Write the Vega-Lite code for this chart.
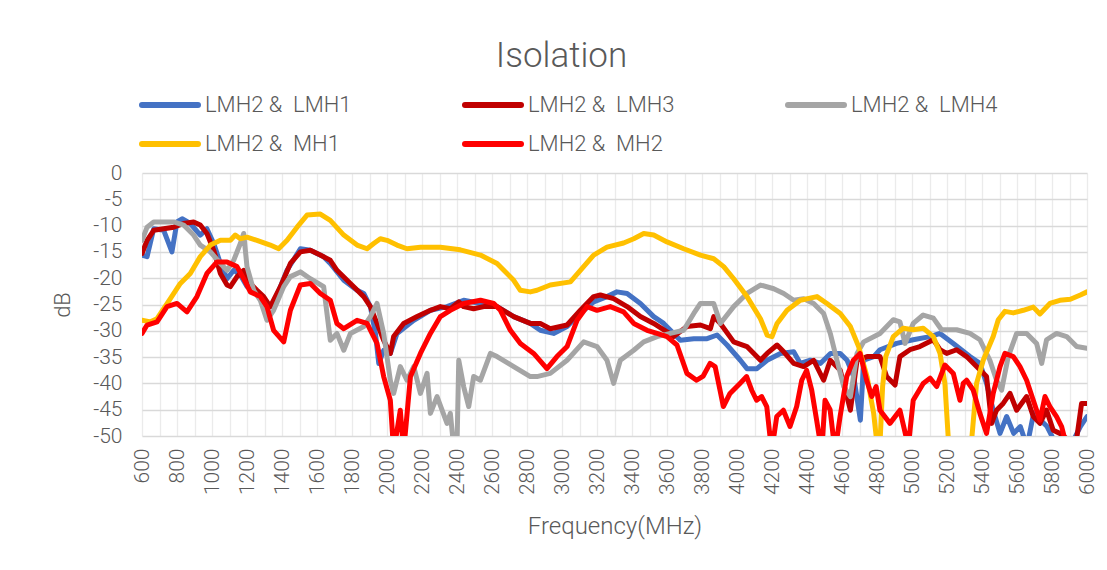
{
"$schema": "https://vega.github.io/schema/vega-lite/v6.json",
"width": 945, "height": 263,
"autosize": {"type": "none"},
"padding": {"left": 142, "top": 173, "right": 20, "bottom": 134},
"background": "white",
"title": {"text": "Isolation", "fontSize": 35, "font": "Roboto", "fontWeight": 300, "color": "#595959", "anchor": "middle", "dx": -53, "offset": -14, "baseline": "alphabetic"},
"config": {"view": {"stroke": null}, "font": "Roboto"},
"data": {"values": [
{"series":"LMH2 &\u00a0 LMH1","freq":600,"dB":-15.6},{"series":"LMH2 &\u00a0 LMH1","freq":629,"dB":-15.9},{"series":"LMH2 &\u00a0 LMH1","freq":667,"dB":-10.6},{"series":"LMH2 &\u00a0 LMH1","freq":724,"dB":-10.9},{"series":"LMH2 &\u00a0 LMH1","freq":771,"dB":-15.0},{"series":"LMH2 &\u00a0 LMH1","freq":800,"dB":-9.3},{"series":"LMH2 &\u00a0 LMH1","freq":829,"dB":-8.7},{"series":"LMH2 &\u00a0 LMH1","freq":876,"dB":-9.6},{"series":"LMH2 &\u00a0 LMH1","freq":933,"dB":-11.8},{"series":"LMH2 &\u00a0 LMH1","freq":971,"dB":-10.6},{"series":"LMH2 &\u00a0 LMH1","freq":1010,"dB":-13.4},{"series":"LMH2 &\u00a0 LMH1","freq":1048,"dB":-17.2},{"series":"LMH2 &\u00a0 LMH1","freq":1086,"dB":-20.1},{"series":"LMH2 &\u00a0 LMH1","freq":1124,"dB":-18.5},{"series":"LMH2 &\u00a0 LMH1","freq":1162,"dB":-19.4},{"series":"LMH2 &\u00a0 LMH1","freq":1200,"dB":-21.6},{"series":"LMH2 &\u00a0 LMH1","freq":1238,"dB":-22.3},{"series":"LMH2 &\u00a0 LMH1","freq":1295,"dB":-24.2},{"series":"LMH2 &\u00a0 LMH1","freq":1333,"dB":-25.4},{"series":"LMH2 &\u00a0 LMH1","freq":1352,"dB":-24.8},{"series":"LMH2 &\u00a0 LMH1","freq":1429,"dB":-18.5},{"series":"LMH2 &\u00a0 LMH1","freq":1505,"dB":-14.4},{"series":"LMH2 &\u00a0 LMH1","freq":1562,"dB":-14.7},{"series":"LMH2 &\u00a0 LMH1","freq":1638,"dB":-15.9},{"series":"LMH2 &\u00a0 LMH1","freq":1676,"dB":-17.2},{"series":"LMH2 &\u00a0 LMH1","freq":1753,"dB":-20.4},{"series":"LMH2 &\u00a0 LMH1","freq":1829,"dB":-22.3},{"series":"LMH2 &\u00a0 LMH1","freq":1867,"dB":-22.9},{"series":"LMH2 &\u00a0 LMH1","freq":1905,"dB":-25.4},{"series":"LMH2 &\u00a0 LMH1","freq":1934,"dB":-30.5},{"series":"LMH2 &\u00a0 LMH1","freq":1953,"dB":-36.2},{"series":"LMH2 &\u00a0 LMH1","freq":1981,"dB":-33.7},{"series":"LMH2 &\u00a0 LMH1","freq":2019,"dB":-34.3},{"series":"LMH2 &\u00a0 LMH1","freq":2057,"dB":-30.5},{"series":"LMH2 &\u00a0 LMH1","freq":2153,"dB":-28.0},{"series":"LMH2 &\u00a0 LMH1","freq":2248,"dB":-26.1},{"series":"LMH2 &\u00a0 LMH1","freq":2343,"dB":-25.4},{"series":"LMH2 &\u00a0 LMH1","freq":2438,"dB":-24.2},{"series":"LMH2 &\u00a0 LMH1","freq":2534,"dB":-24.8},{"series":"LMH2 &\u00a0 LMH1","freq":2629,"dB":-25.4},{"series":"LMH2 &\u00a0 LMH1","freq":2724,"dB":-27.3},{"series":"LMH2 &\u00a0 LMH1","freq":2819,"dB":-28.6},{"series":"LMH2 &\u00a0 LMH1","freq":2876,"dB":-29.9},{"series":"LMH2 &\u00a0 LMH1","freq":2952,"dB":-30.5},{"series":"LMH2 &\u00a0 LMH1","freq":3029,"dB":-29.2},{"series":"LMH2 &\u00a0 LMH1","freq":3105,"dB":-26.7},{"series":"LMH2 &\u00a0 LMH1","freq":3181,"dB":-24.5},{"series":"LMH2 &\u00a0 LMH1","freq":3257,"dB":-23.5},{"series":"LMH2 &\u00a0 LMH1","freq":3314,"dB":-22.6},{"series":"LMH2 &\u00a0 LMH1","freq":3372,"dB":-22.9},{"series":"LMH2 &\u00a0 LMH1","freq":3448,"dB":-24.8},{"series":"LMH2 &\u00a0 LMH1","freq":3524,"dB":-27.3},{"series":"LMH2 &\u00a0 LMH1","freq":3581,"dB":-28.6},{"series":"LMH2 &\u00a0 LMH1","freq":3638,"dB":-30.5},{"series":"LMH2 &\u00a0 LMH1","freq":3676,"dB":-31.8},{"series":"LMH2 &\u00a0 LMH1","freq":3753,"dB":-31.5},{"series":"LMH2 &\u00a0 LMH1","freq":3829,"dB":-31.5},{"series":"LMH2 &\u00a0 LMH1","freq":3886,"dB":-30.8},{"series":"LMH2 &\u00a0 LMH1","freq":3943,"dB":-32.7},{"series":"LMH2 &\u00a0 LMH1","freq":4019,"dB":-35.6},{"series":"LMH2 &\u00a0 LMH1","freq":4057,"dB":-37.2},{"series":"LMH2 &\u00a0 LMH1","freq":4114,"dB":-37.2},{"series":"LMH2 &\u00a0 LMH1","freq":4172,"dB":-35.6},{"series":"LMH2 &\u00a0 LMH1","freq":4248,"dB":-34.3},{"series":"LMH2 &\u00a0 LMH1","freq":4324,"dB":-34.0},{"series":"LMH2 &\u00a0 LMH1","freq":4362,"dB":-36.2},{"series":"LMH2 &\u00a0 LMH1","freq":4419,"dB":-35.6},{"series":"LMH2 &\u00a0 LMH1","freq":4476,"dB":-36.2},{"series":"LMH2 &\u00a0 LMH1","freq":4534,"dB":-34.3},{"series":"LMH2 &\u00a0 LMH1","freq":4590,"dB":-34.3},{"series":"LMH2 &\u00a0 LMH1","freq":4629,"dB":-35.6},{"series":"LMH2 &\u00a0 LMH1","freq":4667,"dB":-38.7},{"series":"LMH2 &\u00a0 LMH1","freq":4705,"dB":-47.0},{"series":"LMH2 &\u00a0 LMH1","freq":4724,"dB":-35.6},{"series":"LMH2 &\u00a0 LMH1","freq":4781,"dB":-34.9},{"series":"LMH2 &\u00a0 LMH1","freq":4817,"dB":-33.6},{"series":"LMH2 &\u00a0 LMH1","freq":4912,"dB":-32.4},{"series":"LMH2 &\u00a0 LMH1","freq":5007,"dB":-31.7},{"series":"LMH2 &\u00a0 LMH1","freq":5103,"dB":-31.1},{"series":"LMH2 &\u00a0 LMH1","freq":5160,"dB":-30.5},{"series":"LMH2 &\u00a0 LMH1","freq":5236,"dB":-32.4},{"series":"LMH2 &\u00a0 LMH1","freq":5331,"dB":-34.9},{"series":"LMH2 &\u00a0 LMH1","freq":5388,"dB":-36.2},{"series":"LMH2 &\u00a0 LMH1","freq":5426,"dB":-40.0},{"series":"LMH2 &\u00a0 LMH1","freq":5464,"dB":-45.1},{"series":"LMH2 &\u00a0 LMH1","freq":5503,"dB":-49.5},{"series":"LMH2 &\u00a0 LMH1","freq":5541,"dB":-46.3},{"series":"LMH2 &\u00a0 LMH1","freq":5581,"dB":-49.5},{"series":"LMH2 &\u00a0 LMH1","freq":5619,"dB":-48.2},{"series":"LMH2 &\u00a0 LMH1","freq":5657,"dB":-52},{"series":"LMH2 &\u00a0 LMH1","freq":5695,"dB":-45.7},{"series":"LMH2 &\u00a0 LMH1","freq":5772,"dB":-48.2},{"series":"LMH2 &\u00a0 LMH1","freq":5829,"dB":-52},{"series":"LMH2 &\u00a0 LMH1","freq":5905,"dB":-52},{"series":"LMH2 &\u00a0 LMH1","freq":5962,"dB":-48.2},{"series":"LMH2 &\u00a0 LMH1","freq":6000,"dB":-46.3},
{"series":"LMH2 &\u00a0 LMH3","freq":600,"dB":-15.3},{"series":"LMH2 &\u00a0 LMH3","freq":629,"dB":-12.8},{"series":"LMH2 &\u00a0 LMH3","freq":667,"dB":-10.9},{"series":"LMH2 &\u00a0 LMH3","freq":724,"dB":-10.6},{"series":"LMH2 &\u00a0 LMH3","freq":781,"dB":-10.3},{"series":"LMH2 &\u00a0 LMH3","freq":838,"dB":-9.6},{"series":"LMH2 &\u00a0 LMH3","freq":895,"dB":-9.3},{"series":"LMH2 &\u00a0 LMH3","freq":933,"dB":-9.9},{"series":"LMH2 &\u00a0 LMH3","freq":971,"dB":-11.5},{"series":"LMH2 &\u00a0 LMH3","freq":1010,"dB":-14.7},{"series":"LMH2 &\u00a0 LMH3","freq":1048,"dB":-19.1},{"series":"LMH2 &\u00a0 LMH3","freq":1086,"dB":-21.3},{"series":"LMH2 &\u00a0 LMH3","freq":1105,"dB":-21.6},{"series":"LMH2 &\u00a0 LMH3","freq":1143,"dB":-19.7},{"series":"LMH2 &\u00a0 LMH3","freq":1181,"dB":-18.5},{"series":"LMH2 &\u00a0 LMH3","freq":1219,"dB":-21.0},{"series":"LMH2 &\u00a0 LMH3","freq":1257,"dB":-22.3},{"series":"LMH2 &\u00a0 LMH3","freq":1295,"dB":-23.5},{"series":"LMH2 &\u00a0 LMH3","freq":1333,"dB":-25.4},{"series":"LMH2 &\u00a0 LMH3","freq":1391,"dB":-21.6},{"series":"LMH2 &\u00a0 LMH3","freq":1448,"dB":-17.2},{"series":"LMH2 &\u00a0 LMH3","freq":1505,"dB":-15.0},{"series":"LMH2 &\u00a0 LMH3","freq":1562,"dB":-14.7},{"series":"LMH2 &\u00a0 LMH3","freq":1619,"dB":-15.6},{"series":"LMH2 &\u00a0 LMH3","freq":1676,"dB":-16.6},{"series":"LMH2 &\u00a0 LMH3","freq":1714,"dB":-18.5},{"series":"LMH2 &\u00a0 LMH3","freq":1791,"dB":-21.0},{"series":"LMH2 &\u00a0 LMH3","freq":1867,"dB":-23.5},{"series":"LMH2 &\u00a0 LMH3","freq":1905,"dB":-25.4},{"series":"LMH2 &\u00a0 LMH3","freq":1943,"dB":-28.6},{"series":"LMH2 &\u00a0 LMH3","freq":1981,"dB":-31.8},{"series":"LMH2 &\u00a0 LMH3","freq":2019,"dB":-34.3},{"series":"LMH2 &\u00a0 LMH3","freq":2038,"dB":-31.1},{"series":"LMH2 &\u00a0 LMH3","freq":2095,"dB":-28.6},{"series":"LMH2 &\u00a0 LMH3","freq":2172,"dB":-27.3},{"series":"LMH2 &\u00a0 LMH3","freq":2248,"dB":-26.1},{"series":"LMH2 &\u00a0 LMH3","freq":2305,"dB":-25.4},{"series":"LMH2 &\u00a0 LMH3","freq":2362,"dB":-25.8},{"series":"LMH2 &\u00a0 LMH3","freq":2410,"dB":-24.5},{"series":"LMH2 &\u00a0 LMH3","freq":2438,"dB":-25.4},{"series":"LMH2 &\u00a0 LMH3","freq":2495,"dB":-25.8},{"series":"LMH2 &\u00a0 LMH3","freq":2553,"dB":-25.4},{"series":"LMH2 &\u00a0 LMH3","freq":2629,"dB":-25.4},{"series":"LMH2 &\u00a0 LMH3","freq":2724,"dB":-27.3},{"series":"LMH2 &\u00a0 LMH3","freq":2819,"dB":-28.6},{"series":"LMH2 &\u00a0 LMH3","freq":2876,"dB":-28.6},{"series":"LMH2 &\u00a0 LMH3","freq":2933,"dB":-29.6},{"series":"LMH2 &\u00a0 LMH3","freq":3029,"dB":-28.9},{"series":"LMH2 &\u00a0 LMH3","freq":3105,"dB":-26.1},{"series":"LMH2 &\u00a0 LMH3","freq":3181,"dB":-23.5},{"series":"LMH2 &\u00a0 LMH3","freq":3219,"dB":-23.2},{"series":"LMH2 &\u00a0 LMH3","freq":3295,"dB":-23.9},{"series":"LMH2 &\u00a0 LMH3","freq":3372,"dB":-25.4},{"series":"LMH2 &\u00a0 LMH3","freq":3448,"dB":-27.3},{"series":"LMH2 &\u00a0 LMH3","freq":3524,"dB":-28.6},{"series":"LMH2 &\u00a0 LMH3","freq":3600,"dB":-30.2},{"series":"LMH2 &\u00a0 LMH3","freq":3638,"dB":-31.1},{"series":"LMH2 &\u00a0 LMH3","freq":3714,"dB":-29.2},{"series":"LMH2 &\u00a0 LMH3","freq":3791,"dB":-28.9},{"series":"LMH2 &\u00a0 LMH3","freq":3848,"dB":-29.6},{"series":"LMH2 &\u00a0 LMH3","freq":3867,"dB":-27.3},{"series":"LMH2 &\u00a0 LMH3","freq":3905,"dB":-28.6},{"series":"LMH2 &\u00a0 LMH3","freq":3981,"dB":-32.1},{"series":"LMH2 &\u00a0 LMH3","freq":4057,"dB":-33.0},{"series":"LMH2 &\u00a0 LMH3","freq":4134,"dB":-35.6},{"series":"LMH2 &\u00a0 LMH3","freq":4172,"dB":-34.3},{"series":"LMH2 &\u00a0 LMH3","freq":4229,"dB":-32.7},{"series":"LMH2 &\u00a0 LMH3","freq":4267,"dB":-34.0},{"series":"LMH2 &\u00a0 LMH3","freq":4324,"dB":-36.2},{"series":"LMH2 &\u00a0 LMH3","freq":4381,"dB":-36.8},{"series":"LMH2 &\u00a0 LMH3","freq":4438,"dB":-35.6},{"series":"LMH2 &\u00a0 LMH3","freq":4495,"dB":-39.4},{"series":"LMH2 &\u00a0 LMH3","freq":4533,"dB":-35.6},{"series":"LMH2 &\u00a0 LMH3","freq":4590,"dB":-37.5},{"series":"LMH2 &\u00a0 LMH3","freq":4648,"dB":-45.1},{"series":"LMH2 &\u00a0 LMH3","freq":4686,"dB":-35.6},{"series":"LMH2 &\u00a0 LMH3","freq":4743,"dB":-34.9},{"series":"LMH2 &\u00a0 LMH3","freq":4817,"dB":-34.9},{"series":"LMH2 &\u00a0 LMH3","freq":4855,"dB":-38.7},{"series":"LMH2 &\u00a0 LMH3","freq":4903,"dB":-40.3},{"series":"LMH2 &\u00a0 LMH3","freq":4931,"dB":-34.9},{"series":"LMH2 &\u00a0 LMH3","freq":4988,"dB":-33.6},{"series":"LMH2 &\u00a0 LMH3","freq":5045,"dB":-33.0},{"series":"LMH2 &\u00a0 LMH3","freq":5122,"dB":-31.7},{"series":"LMH2 &\u00a0 LMH3","freq":5160,"dB":-33.6},{"series":"LMH2 &\u00a0 LMH3","freq":5198,"dB":-34.3},{"series":"LMH2 &\u00a0 LMH3","freq":5255,"dB":-33.6},{"series":"LMH2 &\u00a0 LMH3","freq":5312,"dB":-34.9},{"series":"LMH2 &\u00a0 LMH3","freq":5369,"dB":-36.8},{"series":"LMH2 &\u00a0 LMH3","freq":5426,"dB":-38.7},{"series":"LMH2 &\u00a0 LMH3","freq":5455,"dB":-47.6},{"series":"LMH2 &\u00a0 LMH3","freq":5483,"dB":-45.1},{"series":"LMH2 &\u00a0 LMH3","freq":5521,"dB":-43.8},{"series":"LMH2 &\u00a0 LMH3","freq":5560,"dB":-41.9},{"series":"LMH2 &\u00a0 LMH3","freq":5598,"dB":-45.1},{"series":"LMH2 &\u00a0 LMH3","freq":5655,"dB":-42.5},{"series":"LMH2 &\u00a0 LMH3","freq":5693,"dB":-46.3},{"series":"LMH2 &\u00a0 LMH3","freq":5731,"dB":-47.6},{"series":"LMH2 &\u00a0 LMH3","freq":5769,"dB":-45.1},{"series":"LMH2 &\u00a0 LMH3","freq":5807,"dB":-48.9},{"series":"LMH2 &\u00a0 LMH3","freq":5845,"dB":-49.5},{"series":"LMH2 &\u00a0 LMH3","freq":5884,"dB":-50.5},{"series":"LMH2 &\u00a0 LMH3","freq":5941,"dB":-50.5},{"series":"LMH2 &\u00a0 LMH3","freq":5969,"dB":-43.8},{"series":"LMH2 &\u00a0 LMH3","freq":6000,"dB":-43.8},
{"series":"LMH2 &\u00a0 LMH4","freq":600,"dB":-12.8},{"series":"LMH2 &\u00a0 LMH4","freq":629,"dB":-10.3},{"series":"LMH2 &\u00a0 LMH4","freq":667,"dB":-9.3},{"series":"LMH2 &\u00a0 LMH4","freq":724,"dB":-9.3},{"series":"LMH2 &\u00a0 LMH4","freq":781,"dB":-9.3},{"series":"LMH2 &\u00a0 LMH4","freq":838,"dB":-9.9},{"series":"LMH2 &\u00a0 LMH4","freq":895,"dB":-11.8},{"series":"LMH2 &\u00a0 LMH4","freq":933,"dB":-13.7},{"series":"LMH2 &\u00a0 LMH4","freq":991,"dB":-15.0},{"series":"LMH2 &\u00a0 LMH4","freq":1048,"dB":-17.2},{"series":"LMH2 &\u00a0 LMH4","freq":1086,"dB":-18.5},{"series":"LMH2 &\u00a0 LMH4","freq":1124,"dB":-16.6},{"series":"LMH2 &\u00a0 LMH4","freq":1162,"dB":-13.4},{"series":"LMH2 &\u00a0 LMH4","freq":1181,"dB":-11.5},{"series":"LMH2 &\u00a0 LMH4","freq":1200,"dB":-17.8},{"series":"LMH2 &\u00a0 LMH4","freq":1238,"dB":-22.3},{"series":"LMH2 &\u00a0 LMH4","freq":1276,"dB":-24.2},{"series":"LMH2 &\u00a0 LMH4","freq":1314,"dB":-28.0},{"series":"LMH2 &\u00a0 LMH4","freq":1352,"dB":-26.1},{"series":"LMH2 &\u00a0 LMH4","freq":1410,"dB":-21.6},{"series":"LMH2 &\u00a0 LMH4","freq":1448,"dB":-19.7},{"series":"LMH2 &\u00a0 LMH4","freq":1505,"dB":-18.8},{"series":"LMH2 &\u00a0 LMH4","freq":1562,"dB":-20.1},{"series":"LMH2 &\u00a0 LMH4","freq":1638,"dB":-21.6},{"series":"LMH2 &\u00a0 LMH4","freq":1676,"dB":-31.8},{"series":"LMH2 &\u00a0 LMH4","freq":1714,"dB":-30.5},{"series":"LMH2 &\u00a0 LMH4","freq":1753,"dB":-33.7},{"series":"LMH2 &\u00a0 LMH4","freq":1791,"dB":-30.5},{"series":"LMH2 &\u00a0 LMH4","freq":1867,"dB":-29.2},{"series":"LMH2 &\u00a0 LMH4","freq":1905,"dB":-27.3},{"series":"LMH2 &\u00a0 LMH4","freq":1943,"dB":-24.8},{"series":"LMH2 &\u00a0 LMH4","freq":1981,"dB":-30.5},{"series":"LMH2 &\u00a0 LMH4","freq":2019,"dB":-39.4},{"series":"LMH2 &\u00a0 LMH4","freq":2038,"dB":-41.9},{"series":"LMH2 &\u00a0 LMH4","freq":2076,"dB":-36.8},{"series":"LMH2 &\u00a0 LMH4","freq":2114,"dB":-39.4},{"series":"LMH2 &\u00a0 LMH4","freq":2153,"dB":-36.8},{"series":"LMH2 &\u00a0 LMH4","freq":2191,"dB":-41.9},{"series":"LMH2 &\u00a0 LMH4","freq":2229,"dB":-38.1},{"series":"LMH2 &\u00a0 LMH4","freq":2248,"dB":-45.7},{"series":"LMH2 &\u00a0 LMH4","freq":2286,"dB":-42.5},{"series":"LMH2 &\u00a0 LMH4","freq":2343,"dB":-47.6},{"series":"LMH2 &\u00a0 LMH4","freq":2362,"dB":-45.7},{"series":"LMH2 &\u00a0 LMH4","freq":2381,"dB":-52},{"series":"LMH2 &\u00a0 LMH4","freq":2400,"dB":-52},{"series":"LMH2 &\u00a0 LMH4","freq":2410,"dB":-35.6},{"series":"LMH2 &\u00a0 LMH4","freq":2438,"dB":-40.6},{"series":"LMH2 &\u00a0 LMH4","freq":2467,"dB":-44.4},{"series":"LMH2 &\u00a0 LMH4","freq":2495,"dB":-38.7},{"series":"LMH2 &\u00a0 LMH4","freq":2534,"dB":-39.4},{"series":"LMH2 &\u00a0 LMH4","freq":2591,"dB":-34.3},{"series":"LMH2 &\u00a0 LMH4","freq":2629,"dB":-34.9},{"series":"LMH2 &\u00a0 LMH4","freq":2724,"dB":-36.8},{"series":"LMH2 &\u00a0 LMH4","freq":2819,"dB":-38.7},{"series":"LMH2 &\u00a0 LMH4","freq":2857,"dB":-38.7},{"series":"LMH2 &\u00a0 LMH4","freq":2933,"dB":-38.1},{"series":"LMH2 &\u00a0 LMH4","freq":3029,"dB":-35.6},{"series":"LMH2 &\u00a0 LMH4","freq":3124,"dB":-32.1},{"series":"LMH2 &\u00a0 LMH4","freq":3200,"dB":-33.0},{"series":"LMH2 &\u00a0 LMH4","freq":3257,"dB":-35.6},{"series":"LMH2 &\u00a0 LMH4","freq":3295,"dB":-40.0},{"series":"LMH2 &\u00a0 LMH4","freq":3333,"dB":-35.6},{"series":"LMH2 &\u00a0 LMH4","freq":3410,"dB":-33.7},{"series":"LMH2 &\u00a0 LMH4","freq":3467,"dB":-32.1},{"series":"LMH2 &\u00a0 LMH4","freq":3543,"dB":-31.1},{"series":"LMH2 &\u00a0 LMH4","freq":3619,"dB":-30.5},{"series":"LMH2 &\u00a0 LMH4","freq":3695,"dB":-29.9},{"series":"LMH2 &\u00a0 LMH4","freq":3753,"dB":-26.7},{"series":"LMH2 &\u00a0 LMH4","freq":3791,"dB":-24.8},{"series":"LMH2 &\u00a0 LMH4","freq":3867,"dB":-24.8},{"series":"LMH2 &\u00a0 LMH4","freq":3905,"dB":-28.6},{"series":"LMH2 &\u00a0 LMH4","freq":3981,"dB":-25.4},{"series":"LMH2 &\u00a0 LMH4","freq":4057,"dB":-22.9},{"series":"LMH2 &\u00a0 LMH4","freq":4134,"dB":-21.3},{"series":"LMH2 &\u00a0 LMH4","freq":4210,"dB":-22.0},{"series":"LMH2 &\u00a0 LMH4","freq":4267,"dB":-22.9},{"series":"LMH2 &\u00a0 LMH4","freq":4324,"dB":-24.2},{"series":"LMH2 &\u00a0 LMH4","freq":4381,"dB":-23.9},{"series":"LMH2 &\u00a0 LMH4","freq":4438,"dB":-24.8},{"series":"LMH2 &\u00a0 LMH4","freq":4495,"dB":-26.7},{"series":"LMH2 &\u00a0 LMH4","freq":4533,"dB":-30.5},{"series":"LMH2 &\u00a0 LMH4","freq":4571,"dB":-35.6},{"series":"LMH2 &\u00a0 LMH4","freq":4610,"dB":-40.6},{"series":"LMH2 &\u00a0 LMH4","freq":4648,"dB":-42.5},{"series":"LMH2 &\u00a0 LMH4","freq":4686,"dB":-34.3},{"series":"LMH2 &\u00a0 LMH4","freq":4724,"dB":-32.1},{"series":"LMH2 &\u00a0 LMH4","freq":4817,"dB":-30.5},{"series":"LMH2 &\u00a0 LMH4","freq":4893,"dB":-27.9},{"series":"LMH2 &\u00a0 LMH4","freq":4931,"dB":-28.3},{"series":"LMH2 &\u00a0 LMH4","freq":4960,"dB":-32.4},{"series":"LMH2 &\u00a0 LMH4","freq":5007,"dB":-28.6},{"series":"LMH2 &\u00a0 LMH4","freq":5064,"dB":-27.0},{"series":"LMH2 &\u00a0 LMH4","freq":5122,"dB":-27.6},{"series":"LMH2 &\u00a0 LMH4","freq":5169,"dB":-29.8},{"series":"LMH2 &\u00a0 LMH4","freq":5255,"dB":-29.8},{"series":"LMH2 &\u00a0 LMH4","freq":5331,"dB":-30.5},{"series":"LMH2 &\u00a0 LMH4","freq":5388,"dB":-31.7},{"series":"LMH2 &\u00a0 LMH4","freq":5445,"dB":-35.6},{"series":"LMH2 &\u00a0 LMH4","freq":5483,"dB":-39.4},{"series":"LMH2 &\u00a0 LMH4","freq":5512,"dB":-41.3},{"series":"LMH2 &\u00a0 LMH4","freq":5550,"dB":-34.9},{"series":"LMH2 &\u00a0 LMH4","freq":5598,"dB":-30.5},{"series":"LMH2 &\u00a0 LMH4","freq":5655,"dB":-30.5},{"series":"LMH2 &\u00a0 LMH4","freq":5712,"dB":-32.4},{"series":"LMH2 &\u00a0 LMH4","freq":5741,"dB":-36.2},{"series":"LMH2 &\u00a0 LMH4","freq":5769,"dB":-31.7},{"series":"LMH2 &\u00a0 LMH4","freq":5826,"dB":-30.5},{"series":"LMH2 &\u00a0 LMH4","freq":5884,"dB":-31.1},{"series":"LMH2 &\u00a0 LMH4","freq":5941,"dB":-33.0},{"series":"LMH2 &\u00a0 LMH4","freq":6000,"dB":-33.3},
{"series":"LMH2 &\u00a0 MH1","freq":600,"dB":-28.0},{"series":"LMH2 &\u00a0 MH1","freq":648,"dB":-28.3},{"series":"LMH2 &\u00a0 MH1","freq":686,"dB":-27.7},{"series":"LMH2 &\u00a0 MH1","freq":762,"dB":-23.9},{"series":"LMH2 &\u00a0 MH1","freq":819,"dB":-21.0},{"series":"LMH2 &\u00a0 MH1","freq":876,"dB":-19.1},{"series":"LMH2 &\u00a0 MH1","freq":933,"dB":-15.9},{"series":"LMH2 &\u00a0 MH1","freq":991,"dB":-13.7},{"series":"LMH2 &\u00a0 MH1","freq":1048,"dB":-12.8},{"series":"LMH2 &\u00a0 MH1","freq":1105,"dB":-12.8},{"series":"LMH2 &\u00a0 MH1","freq":1133,"dB":-11.8},{"series":"LMH2 &\u00a0 MH1","freq":1162,"dB":-12.5},{"series":"LMH2 &\u00a0 MH1","freq":1200,"dB":-12.2},{"series":"LMH2 &\u00a0 MH1","freq":1257,"dB":-12.8},{"series":"LMH2 &\u00a0 MH1","freq":1333,"dB":-13.7},{"series":"LMH2 &\u00a0 MH1","freq":1381,"dB":-14.4},{"series":"LMH2 &\u00a0 MH1","freq":1429,"dB":-12.8},{"series":"LMH2 &\u00a0 MH1","freq":1486,"dB":-10.3},{"series":"LMH2 &\u00a0 MH1","freq":1543,"dB":-8.0},{"series":"LMH2 &\u00a0 MH1","freq":1619,"dB":-7.8},{"series":"LMH2 &\u00a0 MH1","freq":1676,"dB":-9.0},{"series":"LMH2 &\u00a0 MH1","freq":1753,"dB":-11.8},{"series":"LMH2 &\u00a0 MH1","freq":1829,"dB":-13.7},{"series":"LMH2 &\u00a0 MH1","freq":1886,"dB":-14.4},{"series":"LMH2 &\u00a0 MH1","freq":1924,"dB":-13.4},{"series":"LMH2 &\u00a0 MH1","freq":1962,"dB":-12.5},{"series":"LMH2 &\u00a0 MH1","freq":2000,"dB":-12.8},{"series":"LMH2 &\u00a0 MH1","freq":2057,"dB":-13.7},{"series":"LMH2 &\u00a0 MH1","freq":2114,"dB":-14.4},{"series":"LMH2 &\u00a0 MH1","freq":2191,"dB":-14.1},{"series":"LMH2 &\u00a0 MH1","freq":2305,"dB":-14.1},{"series":"LMH2 &\u00a0 MH1","freq":2419,"dB":-14.6},{"series":"LMH2 &\u00a0 MH1","freq":2534,"dB":-15.6},{"series":"LMH2 &\u00a0 MH1","freq":2629,"dB":-17.2},{"series":"LMH2 &\u00a0 MH1","freq":2724,"dB":-20.4},{"series":"LMH2 &\u00a0 MH1","freq":2762,"dB":-22.3},{"series":"LMH2 &\u00a0 MH1","freq":2819,"dB":-22.6},{"series":"LMH2 &\u00a0 MH1","freq":2857,"dB":-22.3},{"series":"LMH2 &\u00a0 MH1","freq":2933,"dB":-21.3},{"series":"LMH2 &\u00a0 MH1","freq":3048,"dB":-20.7},{"series":"LMH2 &\u00a0 MH1","freq":3105,"dB":-18.5},{"series":"LMH2 &\u00a0 MH1","freq":3181,"dB":-15.6},{"series":"LMH2 &\u00a0 MH1","freq":3257,"dB":-14.1},{"series":"LMH2 &\u00a0 MH1","freq":3352,"dB":-13.3},{"series":"LMH2 &\u00a0 MH1","freq":3410,"dB":-12.5},{"series":"LMH2 &\u00a0 MH1","freq":3467,"dB":-11.5},{"series":"LMH2 &\u00a0 MH1","freq":3524,"dB":-11.8},{"series":"LMH2 &\u00a0 MH1","freq":3600,"dB":-13.1},{"series":"LMH2 &\u00a0 MH1","freq":3695,"dB":-14.4},{"series":"LMH2 &\u00a0 MH1","freq":3791,"dB":-15.6},{"series":"LMH2 &\u00a0 MH1","freq":3867,"dB":-16.3},{"series":"LMH2 &\u00a0 MH1","freq":3924,"dB":-17.8},{"series":"LMH2 &\u00a0 MH1","freq":3981,"dB":-20.1},{"series":"LMH2 &\u00a0 MH1","freq":4057,"dB":-23.5},{"series":"LMH2 &\u00a0 MH1","freq":4134,"dB":-27.7},{"series":"LMH2 &\u00a0 MH1","freq":4172,"dB":-30.8},{"series":"LMH2 &\u00a0 MH1","freq":4200,"dB":-31.1},{"series":"LMH2 &\u00a0 MH1","freq":4229,"dB":-28.6},{"series":"LMH2 &\u00a0 MH1","freq":4286,"dB":-26.1},{"series":"LMH2 &\u00a0 MH1","freq":4362,"dB":-24.2},{"series":"LMH2 &\u00a0 MH1","freq":4457,"dB":-23.5},{"series":"LMH2 &\u00a0 MH1","freq":4514,"dB":-24.8},{"series":"LMH2 &\u00a0 MH1","freq":4590,"dB":-26.7},{"series":"LMH2 &\u00a0 MH1","freq":4648,"dB":-29.2},{"series":"LMH2 &\u00a0 MH1","freq":4695,"dB":-33.0},{"series":"LMH2 &\u00a0 MH1","freq":4743,"dB":-38.7},{"series":"LMH2 &\u00a0 MH1","freq":4781,"dB":-45.7},{"series":"LMH2 &\u00a0 MH1","freq":4805,"dB":-53},{"series":"LMH2 &\u00a0 MH1","freq":4815,"dB":-53},{"series":"LMH2 &\u00a0 MH1","freq":4832,"dB":-40.6},{"series":"LMH2 &\u00a0 MH1","freq":4850,"dB":-34.9},{"series":"LMH2 &\u00a0 MH1","freq":4893,"dB":-31.1},{"series":"LMH2 &\u00a0 MH1","freq":4950,"dB":-29.5},{"series":"LMH2 &\u00a0 MH1","freq":5007,"dB":-29.8},{"series":"LMH2 &\u00a0 MH1","freq":5064,"dB":-29.5},{"series":"LMH2 &\u00a0 MH1","freq":5122,"dB":-31.1},{"series":"LMH2 &\u00a0 MH1","freq":5160,"dB":-34.3},{"series":"LMH2 &\u00a0 MH1","freq":5188,"dB":-40.0},{"series":"LMH2 &\u00a0 MH1","freq":5212,"dB":-53},{"series":"LMH2 &\u00a0 MH1","freq":5335,"dB":-53},{"series":"LMH2 &\u00a0 MH1","freq":5369,"dB":-40.0},{"series":"LMH2 &\u00a0 MH1","freq":5407,"dB":-35.6},{"series":"LMH2 &\u00a0 MH1","freq":5464,"dB":-31.1},{"series":"LMH2 &\u00a0 MH1","freq":5493,"dB":-27.9},{"series":"LMH2 &\u00a0 MH1","freq":5531,"dB":-26.3},{"series":"LMH2 &\u00a0 MH1","freq":5579,"dB":-26.6},{"series":"LMH2 &\u00a0 MH1","freq":5636,"dB":-26.1},{"series":"LMH2 &\u00a0 MH1","freq":5693,"dB":-25.5},{"series":"LMH2 &\u00a0 MH1","freq":5731,"dB":-26.8},{"series":"LMH2 &\u00a0 MH1","freq":5788,"dB":-24.8},{"series":"LMH2 &\u00a0 MH1","freq":5845,"dB":-24.2},{"series":"LMH2 &\u00a0 MH1","freq":5905,"dB":-24.0},{"series":"LMH2 &\u00a0 MH1","freq":5962,"dB":-23.2},{"series":"LMH2 &\u00a0 MH1","freq":6000,"dB":-22.6},
{"series":"LMH2 &\u00a0 MH2","freq":600,"dB":-30.5},{"series":"LMH2 &\u00a0 MH2","freq":629,"dB":-28.9},{"series":"LMH2 &\u00a0 MH2","freq":686,"dB":-28.3},{"series":"LMH2 &\u00a0 MH2","freq":743,"dB":-25.4},{"series":"LMH2 &\u00a0 MH2","freq":800,"dB":-24.8},{"series":"LMH2 &\u00a0 MH2","freq":857,"dB":-26.4},{"series":"LMH2 &\u00a0 MH2","freq":914,"dB":-23.5},{"series":"LMH2 &\u00a0 MH2","freq":971,"dB":-19.1},{"series":"LMH2 &\u00a0 MH2","freq":1029,"dB":-16.9},{"series":"LMH2 &\u00a0 MH2","freq":1086,"dB":-16.9},{"series":"LMH2 &\u00a0 MH2","freq":1143,"dB":-17.8},{"series":"LMH2 &\u00a0 MH2","freq":1181,"dB":-20.1},{"series":"LMH2 &\u00a0 MH2","freq":1219,"dB":-22.6},{"series":"LMH2 &\u00a0 MH2","freq":1276,"dB":-23.5},{"series":"LMH2 &\u00a0 MH2","freq":1314,"dB":-25.4},{"series":"LMH2 &\u00a0 MH2","freq":1352,"dB":-29.9},{"series":"LMH2 &\u00a0 MH2","freq":1410,"dB":-32.1},{"series":"LMH2 &\u00a0 MH2","freq":1448,"dB":-26.1},{"series":"LMH2 &\u00a0 MH2","freq":1505,"dB":-21.3},{"series":"LMH2 &\u00a0 MH2","freq":1562,"dB":-21.0},{"series":"LMH2 &\u00a0 MH2","freq":1619,"dB":-22.9},{"series":"LMH2 &\u00a0 MH2","freq":1676,"dB":-24.2},{"series":"LMH2 &\u00a0 MH2","freq":1714,"dB":-28.6},{"series":"LMH2 &\u00a0 MH2","freq":1753,"dB":-29.6},{"series":"LMH2 &\u00a0 MH2","freq":1829,"dB":-28.0},{"series":"LMH2 &\u00a0 MH2","freq":1886,"dB":-28.6},{"series":"LMH2 &\u00a0 MH2","freq":1943,"dB":-32.4},{"series":"LMH2 &\u00a0 MH2","freq":1981,"dB":-38.7},{"series":"LMH2 &\u00a0 MH2","freq":2019,"dB":-43.2},{"series":"LMH2 &\u00a0 MH2","freq":2038,"dB":-53},{"series":"LMH2 &\u00a0 MH2","freq":2076,"dB":-45.1},{"series":"LMH2 &\u00a0 MH2","freq":2095,"dB":-53},{"series":"LMH2 &\u00a0 MH2","freq":2134,"dB":-38.7},{"series":"LMH2 &\u00a0 MH2","freq":2191,"dB":-34.3},{"series":"LMH2 &\u00a0 MH2","freq":2248,"dB":-30.5},{"series":"LMH2 &\u00a0 MH2","freq":2305,"dB":-27.3},{"series":"LMH2 &\u00a0 MH2","freq":2362,"dB":-26.1},{"series":"LMH2 &\u00a0 MH2","freq":2438,"dB":-24.8},{"series":"LMH2 &\u00a0 MH2","freq":2534,"dB":-24.2},{"series":"LMH2 &\u00a0 MH2","freq":2610,"dB":-24.8},{"series":"LMH2 &\u00a0 MH2","freq":2648,"dB":-26.1},{"series":"LMH2 &\u00a0 MH2","freq":2705,"dB":-29.9},{"series":"LMH2 &\u00a0 MH2","freq":2762,"dB":-32.4},{"series":"LMH2 &\u00a0 MH2","freq":2838,"dB":-34.3},{"series":"LMH2 &\u00a0 MH2","freq":2914,"dB":-37.2},{"series":"LMH2 &\u00a0 MH2","freq":2971,"dB":-34.9},{"series":"LMH2 &\u00a0 MH2","freq":3029,"dB":-33.0},{"series":"LMH2 &\u00a0 MH2","freq":3086,"dB":-28.0},{"series":"LMH2 &\u00a0 MH2","freq":3143,"dB":-25.4},{"series":"LMH2 &\u00a0 MH2","freq":3200,"dB":-26.1},{"series":"LMH2 &\u00a0 MH2","freq":3276,"dB":-25.4},{"series":"LMH2 &\u00a0 MH2","freq":3352,"dB":-26.4},{"series":"LMH2 &\u00a0 MH2","freq":3410,"dB":-28.6},{"series":"LMH2 &\u00a0 MH2","freq":3486,"dB":-29.9},{"series":"LMH2 &\u00a0 MH2","freq":3543,"dB":-30.5},{"series":"LMH2 &\u00a0 MH2","freq":3600,"dB":-31.1},{"series":"LMH2 &\u00a0 MH2","freq":3657,"dB":-32.7},{"series":"LMH2 &\u00a0 MH2","freq":3714,"dB":-38.1},{"series":"LMH2 &\u00a0 MH2","freq":3769,"dB":-39.4},{"series":"LMH2 &\u00a0 MH2","freq":3807,"dB":-38.6},{"series":"LMH2 &\u00a0 MH2","freq":3846,"dB":-36.2},{"series":"LMH2 &\u00a0 MH2","freq":3875,"dB":-36.8},{"series":"LMH2 &\u00a0 MH2","freq":3903,"dB":-41.3},{"series":"LMH2 &\u00a0 MH2","freq":3922,"dB":-44.4},{"series":"LMH2 &\u00a0 MH2","freq":3960,"dB":-41.9},{"series":"LMH2 &\u00a0 MH2","freq":4017,"dB":-40.0},{"series":"LMH2 &\u00a0 MH2","freq":4055,"dB":-38.7},{"series":"LMH2 &\u00a0 MH2","freq":4084,"dB":-41.3},{"series":"LMH2 &\u00a0 MH2","freq":4112,"dB":-43.2},{"series":"LMH2 &\u00a0 MH2","freq":4141,"dB":-42.5},{"series":"LMH2 &\u00a0 MH2","freq":4170,"dB":-44.4},{"series":"LMH2 &\u00a0 MH2","freq":4198,"dB":-53},{"series":"LMH2 &\u00a0 MH2","freq":4227,"dB":-46.3},{"series":"LMH2 &\u00a0 MH2","freq":4265,"dB":-45.1},{"series":"LMH2 &\u00a0 MH2","freq":4303,"dB":-48.2},{"series":"LMH2 &\u00a0 MH2","freq":4341,"dB":-44.4},{"series":"LMH2 &\u00a0 MH2","freq":4370,"dB":-39.4},{"series":"LMH2 &\u00a0 MH2","freq":4398,"dB":-37.5},{"series":"LMH2 &\u00a0 MH2","freq":4427,"dB":-41.3},{"series":"LMH2 &\u00a0 MH2","freq":4455,"dB":-47.0},{"series":"LMH2 &\u00a0 MH2","freq":4484,"dB":-53},{"series":"LMH2 &\u00a0 MH2","freq":4503,"dB":-43.2},{"series":"LMH2 &\u00a0 MH2","freq":4532,"dB":-45.0},{"series":"LMH2 &\u00a0 MH2","freq":4560,"dB":-53},{"series":"LMH2 &\u00a0 MH2","freq":4589,"dB":-46.3},{"series":"LMH2 &\u00a0 MH2","freq":4627,"dB":-38.7},{"series":"LMH2 &\u00a0 MH2","freq":4665,"dB":-35.6},{"series":"LMH2 &\u00a0 MH2","freq":4703,"dB":-34.3},{"series":"LMH2 &\u00a0 MH2","freq":4741,"dB":-39.4},{"series":"LMH2 &\u00a0 MH2","freq":4770,"dB":-42.5},{"series":"LMH2 &\u00a0 MH2","freq":4795,"dB":-40.6},{"series":"LMH2 &\u00a0 MH2","freq":4817,"dB":-45.1},{"series":"LMH2 &\u00a0 MH2","freq":4874,"dB":-47.6},{"series":"LMH2 &\u00a0 MH2","freq":4931,"dB":-45.1},{"series":"LMH2 &\u00a0 MH2","freq":4979,"dB":-52},{"series":"LMH2 &\u00a0 MH2","freq":5007,"dB":-43.2},{"series":"LMH2 &\u00a0 MH2","freq":5064,"dB":-40.0},{"series":"LMH2 &\u00a0 MH2","freq":5103,"dB":-39.0},{"series":"LMH2 &\u00a0 MH2","freq":5141,"dB":-40.6},{"series":"LMH2 &\u00a0 MH2","freq":5188,"dB":-36.5},{"series":"LMH2 &\u00a0 MH2","freq":5236,"dB":-38.1},{"series":"LMH2 &\u00a0 MH2","freq":5274,"dB":-43.2},{"series":"LMH2 &\u00a0 MH2","freq":5293,"dB":-40.0},{"series":"LMH2 &\u00a0 MH2","freq":5312,"dB":-39.4},{"series":"LMH2 &\u00a0 MH2","freq":5350,"dB":-41.3},{"series":"LMH2 &\u00a0 MH2","freq":5388,"dB":-45.7},{"series":"LMH2 &\u00a0 MH2","freq":5426,"dB":-49.5},{"series":"LMH2 &\u00a0 MH2","freq":5464,"dB":-41.9},{"series":"LMH2 &\u00a0 MH2","freq":5503,"dB":-36.8},{"series":"LMH2 &\u00a0 MH2","freq":5531,"dB":-34.3},{"series":"LMH2 &\u00a0 MH2","freq":5579,"dB":-34.9},{"series":"LMH2 &\u00a0 MH2","freq":5617,"dB":-36.8},{"series":"LMH2 &\u00a0 MH2","freq":5655,"dB":-39.4},{"series":"LMH2 &\u00a0 MH2","freq":5693,"dB":-43.2},{"series":"LMH2 &\u00a0 MH2","freq":5731,"dB":-47.0},{"series":"LMH2 &\u00a0 MH2","freq":5760,"dB":-42.5},{"series":"LMH2 &\u00a0 MH2","freq":5788,"dB":-44.4},{"series":"LMH2 &\u00a0 MH2","freq":5826,"dB":-46.3},{"series":"LMH2 &\u00a0 MH2","freq":5855,"dB":-48.2},{"series":"LMH2 &\u00a0 MH2","freq":5884,"dB":-52}
]},
"mark": {"type": "line", "strokeWidth": 5, "clip": true, "strokeJoin": "round", "strokeCap": "round"},
"encoding": {
"x": {"field": "freq", "type": "quantitative", "scale": {"domain": [600, 6000], "nice": false, "zero": false},
 "axis": {"values": [600,700,800,900,1000,1100,1200,1300,1400,1500,1600,1700,1800,1900,2000,2100,2200,2300,2400,2500,2600,2700,2800,2900,3000,3100,3200,3300,3400,3500,3600,3700,3800,3900,4000,4100,4200,4300,4400,4500,4600,4700,4800,4900,5000,5100,5200,5300,5400,5500,5600,5700,5800,5900,6000],
  "labelExpr": "datum.value % 200 == 0 ? '' + datum.value : ''", "labelAngle": -90, "labelFontSize": 21, "labelFont": "Roboto", "labelFontWeight": 300, "labelColor": "#595959", "labelPadding": 12, "labelOverlap": false, "labelFlush": false, "labelBound": false,
  "ticks": false, "domain": false, "grid": true, "gridColor": "#ebebeb", "gridWidth": 1.3,
  "title": "Frequency(MHz)", "titleFontSize": 24, "titleFont": "Roboto", "titleFontWeight": 300, "titleColor": "#595959", "titleY": 90, "titleBaseline": "middle"}},
"y": {"field": "dB", "type": "quantitative", "scale": {"domain": [-50, 0], "nice": false, "zero": false},
 "axis": {"values": [-50,-45,-40,-35,-30,-25,-20,-15,-10,-5,0],
  "labelExpr": "datum.value == 0 ? '0' : '-' + abs(datum.value)", "labelFontSize": 21, "labelFont": "Roboto", "labelFontWeight": 300, "labelColor": "#595959", "labelPadding": 20,
  "ticks": false, "domain": false, "grid": true, "gridColor": "#d9d9d9", "gridWidth": 1.3,
  "title": "dB", "titleFontSize": 22, "titleFont": "Roboto", "titleFontWeight": 300, "titleColor": "#595959", "titleX": -80, "titleY": 131.5, "titleAlign": "center", "titleBaseline": "middle"}},
"color": {"field": "series", "type": "nominal",
 "scale": {"domain": ["LMH2 &\u00a0 LMH1","LMH2 &\u00a0 LMH3","LMH2 &\u00a0 LMH4","LMH2 &\u00a0 MH1","LMH2 &\u00a0 MH2"], "range": ["#4472C4","#C00000","#A5A5A5","#FFC000","#FF0000"]},
 "legend": {"orient": "none", "legendX": 11, "legendY": -85, "title": null, "columns": 3, "columnPadding": 101, "rowPadding": 10, "padding": 0,
  "symbolType": "M-2,0L2,0", "symbolSize": 784, "symbolStrokeWidth": 6, "labelFontSize": 22, "labelFont": "Roboto", "labelFontWeight": 300, "labelColor": "#595959", "labelOffset": 18, "labelLimit": 0, "direction": "horizontal",
  "encode": {"symbols": {"update": {"strokeCap": {"value": "round"}}}}}}
}
}
